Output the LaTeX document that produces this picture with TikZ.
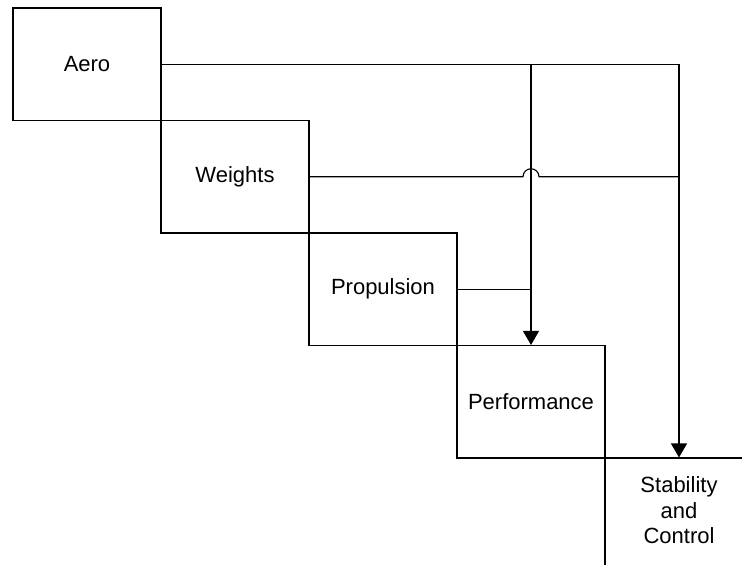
\documentclass[tikz,border=0pt]{standalone}
\usepackage{fontspec}
\setmainfont{Liberation Sans}
\usetikzlibrary{arrows.meta}
\begin{document}
\begin{tikzpicture}[x=1pt,y=-1pt,
  discipline/.style={draw, line width=1.1pt, minimum width=148pt, minimum height=112.5pt,
    inner sep=0pt, align=center, font=\fontsize{22}{25.5}\selectfont},
  caption/.style={inner sep=0pt, align=center, font=\fontsize{22}{25.5}\selectfont},
  link/.style={line width=1.1pt},
  feed/.style={link, -{Triangle[width=16pt,length=14pt]}}]
  \useasboundingbox (0,0) rectangle (742,565);
  \clip (0,0) rectangle (742,565);
  % design structure matrix: disciplines along the diagonal
  \node[discipline] (aero) at (87,64.25) {Aero};
  \node[discipline] (weights) at (235,176.75) {Weights};
  \node[discipline] (prop) at (383,289.25) {Propulsion};
  \node[discipline] (perf) at (531,401.75) {Performance};
  \node[discipline] (stab) at (679,514.25) {};
  \node[caption, yshift=4pt] (stabtext) at (stab.center) {Stability\\and\\Control};
  % couplings
  \coordinate (aerojoin) at (aero.east -| perf.north);
  \coordinate (aerocorner) at (aero.east -| stab.north);
  \coordinate (wtcorner) at (weights.east -| stab.north);
  \coordinate (hop) at (weights.east -| perf.north);
  \coordinate (propjoin) at (prop.east -| perf.north);
  \draw[feed] (aero.east) -- (aerocorner) -- (stab.north);
  \draw[feed] (aerojoin) -- (perf.north);
  \draw[link] (weights.east) -- ([xshift=-8pt]hop) arc[start angle=180, end angle=0, radius=8pt] -- (wtcorner);
  \draw[link] (prop.east) -- (propjoin);
\end{tikzpicture}
\end{document}
